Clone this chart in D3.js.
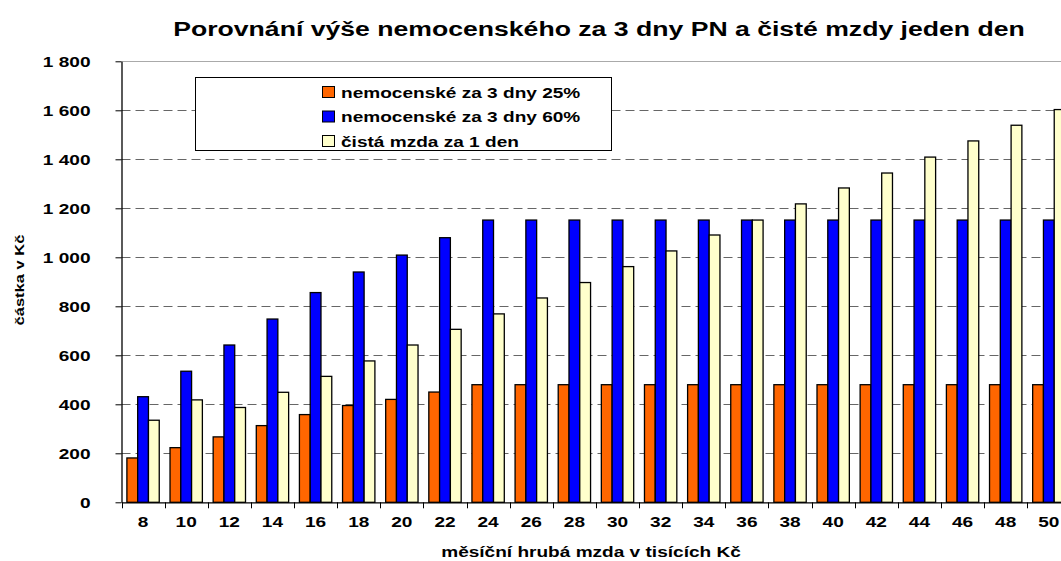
<!DOCTYPE html>
<html>
<head>
<meta charset="utf-8">
<script src="https://cdn.jsdelivr.net/npm/d3@7"></script>
<style>
  html, body { margin: 0; padding: 0; background: #fff; }
  svg { display: block; }
  text { font-family: "Liberation Sans", Arial, sans-serif; font-weight: bold; fill: #000; }
</style>
</head>
<body>
<svg id="chart" width="1061" height="561"></svg>
<script>
// Monthly gross wage (thousand CZK)
const categories = ["8","10","12","14","16","18","20","22","24","26","28","30","32","34","36","38","40","42","44","46","48","50"];
// Sickness benefit for 3 days at 25 %
const sick25 = [181,223,267,313,358,395,420,450,480,480,480,480,480,480,480,480,480,480,480,480,480,480];
// Sickness benefit for 3 days at 60 %
const sick60 = [431,535,642,748,856,940,1009,1080,1152,1152,1152,1152,1152,1152,1152,1152,1152,1152,1152,1152,1152,1152];
// Net wage for one day
const netDay = [335,418,387,449,514,577,642,706,769,834,897,962,1026,1091,1152,1218,1283,1344,1409,1475,1539,1603];

const seriesNames = ["nemocenské za 3 dny 25%", "nemocenské za 3 dny 60%", "čistá mzda za 1 den"];
const seriesColors = ["#FF6600", "#0000FF", "#FFFFCC"];
const yTicks = [0,200,400,600,800,1000,1200,1400,1600,1800];

const titleText = "Porovnání výše nemocenského za 3 dny PN a čisté mzdy jeden den";
const xTitle = "měsíční hrubá mzda v tisících Kč";
const yTitle = "částka v Kč";

const rows = categories.map((c, i) => ({ cat: c, values: [sick25[i], sick60[i], netDay[i]] }));

const svg = d3.select("#chart");
const W = 1061, H = 561;
const plot = { left: 121.5, right: 1070.4, top: 61.3, bottom: 502.3 };
const STRETCH = 1.27;

function stretch(sel, k) {
  sel.each(function () {
    const w = this.getComputedTextLength();
    d3.select(this).attr("textLength", w * k).attr("lengthAdjust", "spacingAndGlyphs");
  });
}

const y = d3.scaleLinear().domain([0, 1800]).range([plot.bottom, plot.top]);
const x0 = d3.scaleBand().domain(categories).range([plot.left, plot.right])
  .paddingInner(0.25).paddingOuter(0.125);
const x1 = d3.scaleBand().domain(d3.range(3)).range([0, x0.bandwidth()]);
const color = d3.scaleOrdinal().domain(d3.range(3)).range(seriesColors);

svg.append("defs").append("clipPath").attr("id", "clip")
  .append("rect").attr("x", 0).attr("y", 0).attr("width", W).attr("height", H);

// Gridlines
const grid = svg.append("g");
grid.selectAll("line.g").data(yTicks.filter(v => v > 0)).join("line")
  .attr("x1", plot.left).attr("x2", W)
  .attr("y1", d => Math.round(y(d)) + 0.5).attr("y2", d => Math.round(y(d)) + 0.5)
  .attr("stroke", d => d === 1800 ? "#aaa" : "#666")
  .attr("stroke-width", 1)
  .attr("stroke-dasharray", d => d === 1800 ? null : "9,5");

// Bars
const groups = svg.append("g").attr("clip-path", "url(#clip)")
  .selectAll("g").data(rows).join("g")
  .attr("transform", d => `translate(${x0(d.cat)},0)`);
groups.selectAll("rect").data(d => d.values.map((v, i) => ({ i, v }))).join("rect")
  .attr("x", d => x1(d.i))
  .attr("y", d => y(d.v))
  .attr("width", x1.bandwidth())
  .attr("height", d => y(0) - y(d.v))
  .attr("fill", d => color(d.i))
  .attr("stroke", "#000")
  .attr("stroke-width", 1.3);

// Y axis
const czLocale = d3.formatLocale({ decimal: ",", thousands: " ", grouping: [3], currency: ["", " Kč"] });
const yAxis = svg.append("g").attr("transform", `translate(${plot.left},0)`)
  .call(d3.axisLeft(y).tickValues(yTicks).tickFormat(czLocale.format(",")).tickSize(6).tickSizeOuter(0).tickPadding(25));
yAxis.select(".domain").attr("stroke", "#000").attr("stroke-width", 1.3);
yAxis.selectAll(".tick line").attr("stroke", "#000");
yAxis.selectAll(".tick text").attr("font-size", 15).attr("font-family", null).attr("dy", "0.36em");
stretch(yAxis.selectAll(".tick text"), STRETCH);

// X axis
const xAxis = svg.append("g").attr("transform", `translate(0,${plot.bottom})`)
  .call(d3.axisBottom(x0).tickSize(0).tickPadding(19));
xAxis.select(".domain").attr("stroke", "#000").attr("stroke-width", 1.3);
xAxis.selectAll(".tick text").attr("font-size", 15).attr("font-family", null).attr("dy", "0.36em");
stretch(xAxis.selectAll(".tick text"), STRETCH);
const boundaries = categories.map(c => x0(c) - x0.step() * x0.paddingInner() / 2);
xAxis.selectAll("line.b").data(boundaries).join("line")
  .attr("x1", d => Math.round(d) + 0.5).attr("x2", d => Math.round(d) + 0.5)
  .attr("y1", 0).attr("y2", 6).attr("stroke", "#000");

// Title
const t = svg.append("text").attr("x", 599).attr("y", 36)
  .attr("text-anchor", "middle").attr("font-size", 20).text(titleText);
stretch(t, 1.33);

// Axis titles
const xt = svg.append("text").attr("x", 591).attr("y", 557)
  .attr("text-anchor", "middle").attr("font-size", 15).text(xTitle);
stretch(xt, STRETCH);
const yt = svg.append("text")
  .attr("transform", "translate(24,280) rotate(-90)")
  .attr("text-anchor", "middle").attr("font-size", 13).text(yTitle);
stretch(yt, STRETCH);

// Legend
const lg = svg.append("g");
lg.append("rect").attr("x", 195.5).attr("y", 77.5).attr("width", 416).attr("height", 73)
  .attr("fill", "#fff").attr("stroke", "#000").attr("stroke-width", 1);
const items = lg.selectAll("g.item").data(seriesNames).join("g")
  .attr("transform", (d, i) => `translate(322,${92 + i * 24.5})`);
items.append("rect").attr("x", 0.5).attr("y", -5.5).attr("width", 12).attr("height", 11)
  .attr("fill", (d, i) => seriesColors[i]).attr("stroke", "#000");
const lt = items.append("text").attr("x", 19).attr("y", 5.5).attr("font-size", 15).text(d => d);
stretch(lt, STRETCH);
</script>
</body>
</html>
